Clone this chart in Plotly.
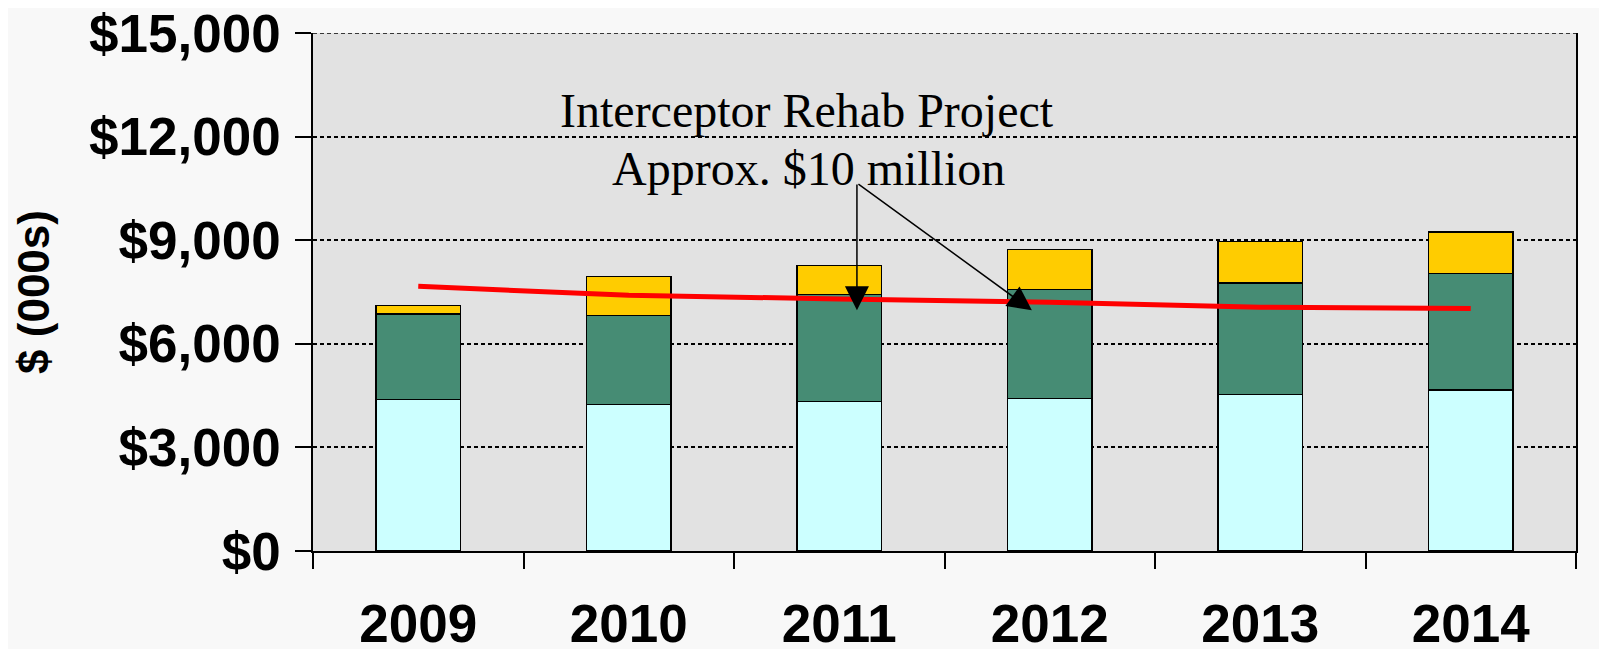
import plotly.graph_objects as go

years = ["2009", "2010", "2011", "2012", "2013", "2014"]
base_vals = [4385, 4246, 4333, 4423, 4530, 4666]
mid_vals = [2480, 2570, 3100, 3146, 3233, 3366]
top_vals = [241, 1138, 839, 1157, 1204, 1207]
trend_vals = [7664, 7404, 7300, 7201, 7057, 7019]
y_ticks = [0, 3000, 6000, 9000, 12000, 15000]
y_tick_text = ["$0", "$3,000", "$6,000", "$9,000", "$12,000", "$15,000"]

W, H = 1607, 649
L, R, T, B = 304.5, 39, 25, 105.5

fig = go.Figure()
for vals, col in [(base_vals, "#CCFFFF"), (mid_vals, "#468C74"), (top_vals, "#FFCC00")]:
    fig.add_trace(go.Bar(x=years, y=vals, marker=dict(color=col, line=dict(color="black", width=1.5)),
                         width=0.4, showlegend=False))
fig.add_trace(go.Scatter(x=years, y=trend_vals, mode="lines", line=dict(color="#FF0000", width=5),
                         showlegend=False))

bold = dict(family="Arial, Liberation Sans, sans-serif", size=53, color="black", weight="bold")
fig.update_layout(
    barmode="stack",
    width=W, height=H,
    margin=dict(l=L, r=R, t=T, b=B, pad=0, autoexpand=False),
    paper_bgcolor="#F8F8F8",
    plot_bgcolor="#E2E2E2",
    bargap=0.6,
    xaxis=dict(type="category", tickson="boundaries", ticks="outside", ticklen=16, tickwidth=1.5,
               tickcolor="black", showline=True, linecolor="black", linewidth=1.5, automargin=False,
               showgrid=False, tickfont=bold, ticklabelstandoff=26, range=[-0.5, 5.5],
               ticklabeloverflow="allow"),
    yaxis=dict(range=[0, 15000], tickvals=y_ticks, ticktext=y_tick_text, ticks="outside",
               ticklen=16, tickwidth=1.5, tickcolor="black", showline=True, linecolor="black",
               linewidth=1.5, mirror=True, showgrid=True, gridcolor="black", gridwidth=1.5,
               griddash="4px,3px", zeroline=False, tickfont=bold, ticklabelstandoff=4, automargin=False,
               ticklabeloverflow="allow",
               title=dict(text="$ (000s)", font=dict(family="Arial, Liberation Sans, sans-serif",
                                                      size=44, color="black", weight="bold"), standoff=26)),
)

# dashed top gridline at the axis maximum
fig.add_shape(type="line", xref="paper", yref="y", x0=0, x1=1, y0=y_ticks[-1], y1=y_ticks[-1],
              line=dict(color="black", width=1.5, dash="4px,3px"), layer="above")

serif = dict(family="Times New Roman, Liberation Serif, serif", size=48, color="black")
fig.add_annotation(xref="paper", yref="paper", x=0.3914, y=0.8496, text="Interceptor Rehab Project",
                   showarrow=False, font=serif, xanchor="center", yanchor="middle")
fig.add_annotation(xref="paper", yref="paper", x=0.3922, y=0.7377, text="Approx. $10 million",
                   showarrow=False, font=serif, xanchor="center", yanchor="middle")
for hx in [2.084, 2.915]:
    fig.add_annotation(x=hx, y=6970, xref="x", yref="y", ax=2.084, ay=10657, axref="x", ayref="y",
                       text="", showarrow=True, arrowhead=2, arrowsize=3.2, arrowwidth=1.5,
                       arrowcolor="black", standoff=0)

fig.write_html("out.html")
